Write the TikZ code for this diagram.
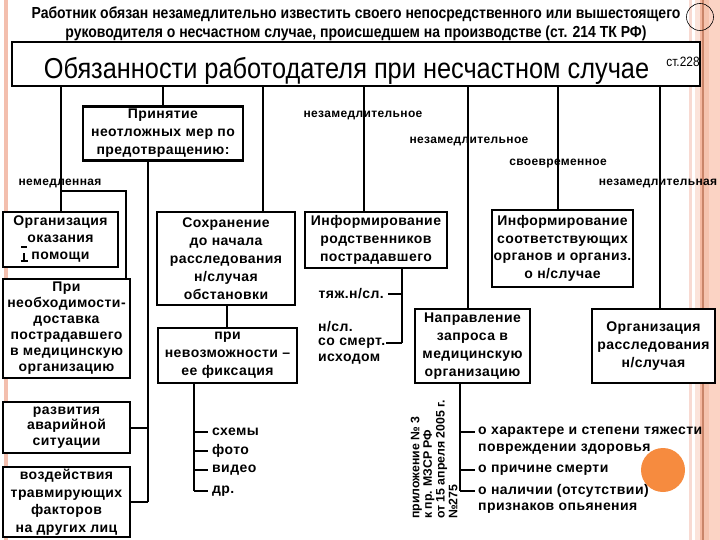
\documentclass[tikz,border=0pt]{standalone}
\usepackage{fontspec}
\setmainfont{Liberation Sans}
\newfontfamily\bx[LetterSpace=3]{Liberation Sans}
\newfontfamily\nar[FakeStretch=0.88]{Liberation Sans}
\newfontfamily\topf[FakeStretch=0.875]{Liberation Sans}
\definecolor{leftc}{HTML}{F3BFAE}
\definecolor{rs1}{HTML}{F8DAD2}
\definecolor{rs2}{HTML}{FBE3DA}
\definecolor{rs3}{HTML}{F4B8A0}
\definecolor{rs4}{HTML}{C98468}
\definecolor{rs5}{HTML}{F5C3AE}
\definecolor{rs6}{HTML}{FBD3C4}
\definecolor{orangec}{HTML}{F68B3F}
\begin{document}
\begin{tikzpicture}[x=1pt,y=-1pt,
  box/.style={draw,line width=2.6pt,fill=white,inner sep=0pt,align=center,
    font=\bx\bfseries\fontsize{14}{18}\selectfont},
  lbl/.style={inner sep=0pt,font=\bx\bfseries\fontsize{12}{14}\selectfont},
  itm/.style={inner sep=0pt,anchor=west,font=\bx\bfseries\fontsize{14}{16}\selectfont},
  con/.style={line width=2pt},
  thk/.style={line width=2.8pt}]
\useasboundingbox (0,0) rectangle (720,540);
% decorative stripes
\fill[leftc] (4,0) rectangle (8,540);
\fill[rs6] (709,0) rectangle (720,540);
\fill[rs1] (689,0) rectangle (692,540);
\fill[rs2] (695,0) rectangle (700,540);
\fill[rs3] (700,0) rectangle (702,540);
\fill[rs4] (702,0) rectangle (703.5,540);
\fill[rs5] (703.5,0) rectangle (709,540);
\draw[line width=0.6pt] (700,17) circle[radius=13.5pt];
\fill[orangec] (663,470) circle[radius=22pt];

% top text
\node[font=\topf\bfseries\fontsize{16}{19}\selectfont,align=center,inner sep=0pt] (top) at (356,23.5)
 {Работник обязан незамедлительно известить своего непосредственного или вышестоящего\\
  руководителя о несчастном случае, происшедшем на производстве (ст. 214 ТК РФ)};

% title
\node[box,minimum width=688,minimum height=44] (title) at (356,64) {};
\node[inner sep=0pt,font=\nar\fontsize{28.8}{30}\selectfont] (tt) at (346.5,71)
 {Обязанности работодателя при несчастном случае};
\node[inner sep=0pt,font=\nar\fontsize{13.5}{14}\selectfont] (st) at (683,62) {ст.228};

% boxes
\node[box,minimum width=160,minimum height=54] (prin) at (163,133.5) {Принятие\\неотложных мер по\\предотвращению:};
\node[box,minimum width=115,minimum height=55,font=\bx\bfseries\fontsize{14}{17}\selectfont] (org) at (60.5,239.5) {Организация\\оказания\\помощи};
\node[box,minimum width=127,minimum height=99,font=\bx\bfseries\fontsize{14}{16}\selectfont] (pri) at (66.5,328.5) {При\\необходимости-\\доставка\\пострадавшего\\в медицинскую\\организацию};
\node[box,minimum width=127,minimum height=51,font=\bx\bfseries\fontsize{14}{15.5}\selectfont] (razv) at (66.5,427.5) {развития\\аварийной\\ситуации};
\node[box,minimum width=127,minimum height=70,font=\bx\bfseries\fontsize{14}{17.5}\selectfont] (vozd) at (66.5,502) {воздействия\\травмирующих\\факторов\\на других лиц};
\node[box,minimum width=138,minimum height=93] (sohr) at (226,258.5) {Сохранение\\до начала\\расследования\\н/случая\\обстановки};
\node[box,minimum width=139,minimum height=55] (nevoz) at (227.5,355.5) {при\\невозможности –\\ее фиксация};
\node[box,minimum width=142,minimum height=56] (infr) at (376,240) {Информирование\\родственников\\пострадавшего};
\node[box,minimum width=141,minimum height=77,font=\bx\bfseries\fontsize{14}{17.5}\selectfont] (infs) at (562.5,248.5) {Информирование\\соответствующих\\органов и организ.\\о н/случае};
\node[box,minimum width=115,minimum height=74] (napr) at (472.5,346) {Направление\\запроса в\\медицинскую\\организацию};
\node[box,minimum width=123,minimum height=74] (orgr) at (653.5,346) {Организация\\расследования\\н/случая};

% small marks in the first box
\draw[line width=1.2pt] (21,247) -- (27,247);
\draw[line width=1.2pt] (24,253) -- (24,261) (20.5,261) -- (27.5,261);

% connectors from title
\coordinate (c0) at (org.north);
\coordinate (c2) at ([xshift=37]sohr.north);
\coordinate (c3) at ([xshift=-12]infr.north);
\coordinate (c4) at ([xshift=-4.5]napr.north);
\coordinate (c5) at ([xshift=-4.5]infs.north);
\coordinate (c6) at ([xshift=6.5]orgr.north);
\foreach \c in {c0,c2,c3,c4,c5,c6} \draw[con] (\c) -- (\c |- title.south);
\draw[con] (prin.north) -- (prin.north |- title.south);

% labels
\node[lbl] (lnem) at (60,183) {немедленная};
\node[lbl] (ln1) at (363,115) {незамедлительное};
\node[lbl] (ln2) at (469,141) {незамедлительное};
\node[lbl] (lsv) at (558,164) {своевременное};
\node[lbl] (lnz) at (658,183) {незамедлительная};

% branch to "При"
\coordinate (nb) at (60,191);
\coordinate (pt) at ([xshift=-5]pri.north east);
\draw[con] (nb) -| (pt);

% from "Принятие" to the two lower boxes
\draw[con] (razv.east) -- ++(17,0);
\draw[con] (vozd.east) -- ++(17,0) coordinate (vb);
\draw[con] (vb) -- (vb |- prin.south);

% Сохранение -> при невозможности
\draw[con] ([xshift=1]sohr.south) -- ([xshift=1]sohr.south |- nevoz.north);

% fixation list
\node[itm] (i1) at (212,432) {схемы};
\node[itm] (i2) at (212,451) {фото};
\node[itm] (i3) at (212,470) {видео};
\node[itm] (i4) at (212,491) {др.};
\coordinate (v0) at ([xshift=-33.5]nevoz.south);
\draw[thk] (v0) -- (v0 |- i4.west);
\foreach \i in {i1,i2,i3,i4} \draw[thk] (v0 |- \i.west) -- ([xshift=-4]\i.west);

% relatives
\node[itm,anchor=east] (t1) at (384,294) {тяж.н/сл.};
\node[itm] (s1) at (318,327) {н/сл.};
\node[itm] (s2) at (318,343) {со смерт.};
\node[itm] (s3) at (318,359) {исходом};
\coordinate (v1) at ([xshift=26]infr.south);
\draw[thk] (v1) -- (v1 |- s2.east);
\draw[thk] (v1 |- t1.east) -- ([xshift=4]t1.east);
\draw[thk] (v1 |- s2.east) -- ([xshift=1]s2.east);

% request list
\node[itm] (r1) at (478,432) {о характере и степени тяжести};
\node[itm] (r2) at (478,449) {повреждении здоровья};
\node[itm] (r3) at (478,470) {о причине смерти};
\node[itm] (r4) at (478,491) {о наличии (отсутствии)};
\node[itm] (r5) at (478,508) {признаков опьянения};
\coordinate (v2) at ([xshift=-12.5]napr.south);
\draw[thk] (v2) -- (v2 |- r4.west);
\foreach \r in {r1,r3,r4} \draw[thk] (v2 |- \r.west) -- ([xshift=-3]\r.west);

% rotated note
\node[rotate=90,anchor=north west,align=left,inner sep=0pt,
  font=\bfseries\fontsize{12.3}{12.7}\selectfont] (note) at (410.5,519)
  {приложение № 3\\к пр. МЗСР РФ\\от 15 апреля 2005 г.\\№275};
\end{tikzpicture}
\end{document}
